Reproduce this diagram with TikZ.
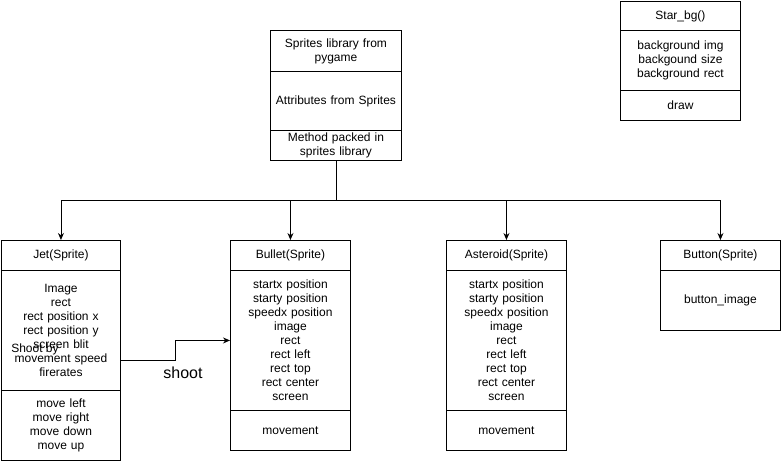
\documentclass[tikz,border=0pt]{standalone}
\usepackage{fontspec}
\setmainfont{Liberation Sans}
\usetikzlibrary{arrows.meta}
\begin{document}
\begin{tikzpicture}[x=1pt,y=-1pt,line width=0.9pt,
  sec/.style={draw, anchor=north west, inner sep=0pt, align=center,
    font=\fontsize{12}{14}\selectfont, minimum width=120pt, text width=118pt},
  conn/.style={-{Stealth[length=7pt,width=6pt]}}]
\useasboundingbox (0,0) rectangle (782,462);
% Sprites library
\node[sec, minimum width=131pt, text width=128pt, minimum height=41pt] (sp1) at (270,30) {Sprites library from\\pygame};
\node[sec, minimum width=131pt, text width=128pt, minimum height=59pt] (sp2) at (270,71) {Attributes from Sprites};
\node[sec, minimum width=131pt, text width=128pt, minimum height=30pt] (sp3) at (270,130) {Method packed in\\sprites library};
% Star_bg
\node[sec, minimum height=29pt] (st1) at (620,1) {Star\_bg()};
\node[sec, minimum height=60pt] (st2) at (620,30) {background img\\backgound size\\background rect};
\node[sec, minimum height=30pt] (st3) at (620,90) {draw};
% Jet
\node[sec, minimum width=119pt, minimum height=30pt] (jet1) at (1,240) {Jet(Sprite)};
\node[sec, minimum width=119pt, minimum height=120pt] (jet2) at (1,270) {Image\\rect\\rect position x\\rect position y\\screen blit\\movement speed\\firerates};
\node[sec, minimum width=119pt, minimum height=70pt] (jet3) at (1,390) {move left\\move right\\move down\\move up};
% Bullet
\node[sec, minimum height=30pt] (bu1) at (230,240) {Bullet(Sprite)};
\node[sec, minimum height=140pt] (bu2) at (230,270) {startx position\\starty position\\speedx position\\image\\rect\\rect left\\rect top\\rect center\\screen};
\node[sec, minimum height=40pt] (bu3) at (230,410) {movement};
% Asteroid
\node[sec, minimum height=30pt] (as1) at (446,240) {Asteroid(Sprite)};
\node[sec, minimum height=140pt] (as2) at (446,270) {startx position\\starty position\\speedx position\\image\\rect\\rect left\\rect top\\rect center\\screen};
\node[sec, minimum height=40pt] (as3) at (446,410) {movement};
% Button
\node[sec, minimum height=30pt] (bt1) at (660,240) {Button(Sprite)};
\node[sec, minimum height=60pt] (bt2) at (660,270) {button\_image};
% connectors
\coordinate (hub) at (sp3.south |- 0,200);
\draw (sp3.south) -- (hub);
\draw[conn] (hub) -| (jet1.north);
\draw[conn] (hub) -| (bu1.north);
\draw[conn] (hub) -| (as1.north);
\draw[conn] (hub) -| (bt1.north);
\draw[conn] ([yshift=-30pt]jet2.east) -- ++(55,0) |- (bu2.west);
\node[font=\fontsize{16}{18}\selectfont] (shoot) at (183,373) {shoot};
\node[font=\fontsize{12}{14}\selectfont, inner sep=0pt] (shootby) at (35,349) {Shoot by};
\end{tikzpicture}
\end{document}
